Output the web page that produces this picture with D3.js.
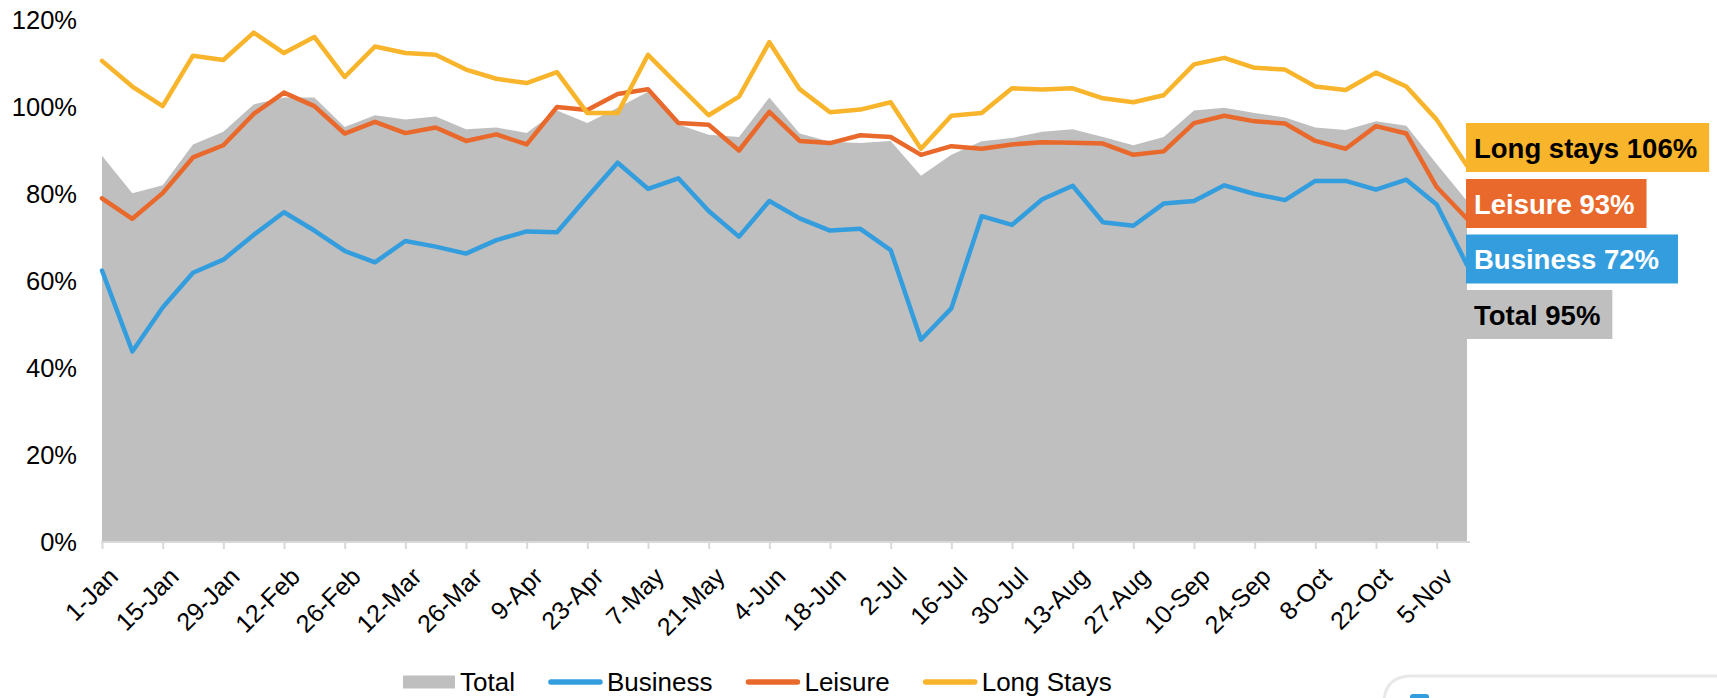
<!DOCTYPE html>
<html><head><meta charset="utf-8">
<script src="https://cdn.jsdelivr.net/npm/d3@7"></script>
<style>
html,body{margin:0;padding:0;background:#fff;overflow:hidden;}
svg{display:block;font-family:"Liberation Sans", Arial, Helvetica, sans-serif;}
</style></head><body>
<svg id="chart" width="1717" height="698"></svg>
<script>
// ---------- DATA ----------
const weeks = ["1-Jan","8-Jan","15-Jan","22-Jan","29-Jan","5-Feb","12-Feb","19-Feb","26-Feb",
  "5-Mar","12-Mar","19-Mar","26-Mar","2-Apr","9-Apr","16-Apr","23-Apr","30-Apr",
  "7-May","14-May","21-May","28-May","4-Jun","11-Jun","18-Jun","25-Jun",
  "2-Jul","9-Jul","16-Jul","23-Jul","30-Jul","6-Aug","13-Aug","20-Aug","27-Aug",
  "3-Sep","10-Sep","17-Sep","24-Sep","1-Oct","8-Oct","15-Oct","22-Oct","29-Oct","5-Nov","12-Nov"];
const tickLabels = ["1-Jan","15-Jan","29-Jan","12-Feb","26-Feb","12-Mar","26-Mar","9-Apr","23-Apr",
  "7-May","21-May","4-Jun","18-Jun","2-Jul","16-Jul","30-Jul","13-Aug","27-Aug","10-Sep",
  "24-Sep","8-Oct","22-Oct","5-Nov"];
const yTicks = [0, 20, 40, 60, 80, 100, 120];

const total = [88.8,80.2,82.0,91.4,94.3,100.6,102.2,102.2,95.4,98.1,97.1,97.8,94.9,95.3,94.0,99.2,
  96.3,99.8,103.5,96.0,93.6,93.1,102.2,93.9,92.0,91.7,92.2,84.2,89.0,92.1,92.9,94.3,94.9,93.1,
  91.2,93.1,99.2,99.8,98.6,97.6,95.3,94.7,96.7,95.7,86.9,78.4];
const business = [62.4,43.8,53.9,61.9,64.9,70.6,75.8,71.6,66.9,64.3,69.2,67.9,66.3,69.4,71.4,71.2,
  79.3,87.2,81.2,83.6,76.1,70.2,78.4,74.4,71.6,72.0,67.1,46.5,53.7,74.9,72.9,78.8,81.9,73.5,
  72.7,77.8,78.4,82.0,80.0,78.6,83.0,83.0,81.0,83.3,77.6,63.7];
const leisure = [79.0,74.3,80.2,88.4,91.2,98.4,103.3,100.2,93.9,96.6,94.0,95.3,92.2,93.7,91.4,100.0,
  99.3,103.0,104.1,96.3,95.9,90.0,98.9,92.2,91.7,93.5,93.1,89.0,91.0,90.4,91.4,91.9,91.8,91.6,
  89.0,89.8,96.3,98.0,96.7,96.2,92.2,90.4,95.6,93.9,81.6,74.3];
const longStays = [110.6,104.7,100.2,111.8,110.8,117.1,112.4,116.1,106.9,113.9,112.4,112.0,108.6,106.5,
  105.5,108.0,98.6,98.6,112.0,105.0,98.1,102.4,114.9,104.1,98.8,99.4,101.1,90.4,98.0,98.6,104.3,
  104.0,104.3,102.0,101.1,102.7,109.8,111.3,109.0,108.6,104.7,103.9,107.9,104.7,97.1,86.5];

const seriesNames = ["Total", "Business", "Leisure", "Long Stays"];
const endLabels = ["Long stays 106%", "Leisure 93%", "Business 72%", "Total 95%"];

// ---------- STYLE ----------
const C = {total:"#BFBFBF", business:"#339DDE", leisure:"#E8692B", long:"#F8B42A", axis:"#D9D9D9"};

const svg = d3.select("#chart");
const x = d3.scalePoint().domain(weeks).range([102, 1467]);
const y = d3.scaleLinear().domain([0, 120]).range([542, 20]);

// area (Total)
svg.append("path")
  .datum(total)
  .attr("fill", C.total)
  .attr("d", d3.area().x((d,i)=>x(weeks[i])).y0(y(0)).y1(d=>y(d)));

// y axis labels
const gy = svg.append("g").attr("transform","translate(102,0)")
  .call(d3.axisLeft(y).tickValues(yTicks).tickSize(0).tickPadding(25).tickFormat(d=>d+"%"));
gy.select(".domain").remove();
gy.selectAll("text").attr("font-size","25.5px").attr("fill","#000")
  .attr("font-family",'"Liberation Sans", Arial, sans-serif');

// x axis
const gx = svg.append("g").attr("transform","translate(0,542)")
  .call(d3.axisBottom(x).tickValues(tickLabels).tickSize(7).tickSizeOuter(0));
gx.select(".domain").attr("stroke", C.axis).attr("stroke-width", 2)
  .attr("d", `M${x(weeks[0])-1},0H${x(weeks[weeks.length-1])+3}`);
gx.selectAll(".tick line").attr("stroke", C.axis).attr("stroke-width", 2);
gx.selectAll(".tick text")
  .attr("font-size","25px").attr("fill","#000")
  .attr("font-family",'"Liberation Sans", Arial, sans-serif')
  .attr("text-anchor","end")
  .attr("x",0).attr("y",0).attr("dy","0.35em")
  .attr("transform","translate(11,30) rotate(-45)");

// lines
const line = d3.line().x((d,i)=>x(weeks[i])).y(d=>y(d));
[[business, C.business],[leisure, C.leisure],[longStays, C.long]].forEach(([s,c])=>{
  svg.append("path").datum(s).attr("fill","none").attr("stroke",c)
    .attr("stroke-width",4.5).attr("stroke-linejoin","round").attr("stroke-linecap","round")
    .attr("d", line);
});

// end labels
const labelFill = [C.long, C.leisure, C.business, C.total];
const labelText = ["#000", "#fff", "#fff", "#000"];
const labelTops = [123, 179, 234.5, 290];
endLabels.forEach((t,i)=>{
  const g = svg.append("g").attr("transform",`translate(1466,${labelTops[i]})`);
  const r = g.append("rect").attr("height",49).attr("fill",labelFill[i]);
  const tx = g.append("text").attr("x",8).attr("y",34.5)
    .attr("font-size","27.5px").attr("font-weight","bold").attr("fill",labelText[i]).text(t);
  const w = tx.node().getComputedTextLength();
  r.attr("width", w + (i===2 ? 27 : 20));
});

// legend
const legY = 682;
const leg = svg.append("g");
let lx = 403;
const legColors = [C.total, C.business, C.leisure, C.long];
seriesNames.forEach((n,i)=>{
  if(i===0){
    leg.append("rect").attr("x",lx).attr("y",legY-6.5).attr("width",52).attr("height",13).attr("fill",legColors[i]);
    lx += 52 + 5;
  } else {
    leg.append("line").attr("x1",lx+3).attr("x2",lx+52).attr("y1",legY).attr("y2",legY)
      .attr("stroke",legColors[i]).attr("stroke-width",5.5).attr("stroke-linecap","round");
    lx += 55 + 4;
  }
  const t = leg.append("text").attr("x",lx).attr("y",legY+9).attr("font-size","26px").attr("fill","#000").text(n);
  lx += t.node().getComputedTextLength() + 33;
});

// partial overlay frame seen at bottom-right of the picture
svg.append("path").attr("d","M1384,700 V705 M1384,700 Q1386,676 1412,676 H1720")
  .attr("fill","none").attr("stroke","#E8E8E8").attr("stroke-width",3);
svg.append("rect").attr("x",1410).attr("y",694).attr("width",19).attr("height",8).attr("rx",3).attr("fill",C.business);
</script>
</body></html>
